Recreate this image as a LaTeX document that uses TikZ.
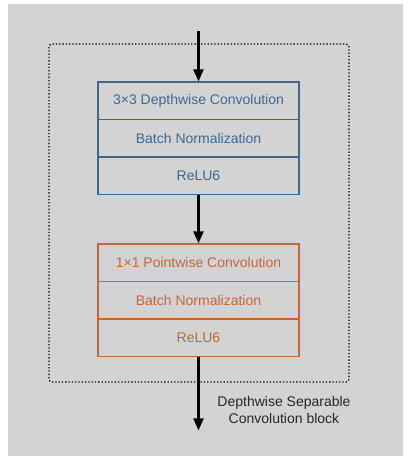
\documentclass[tikz,border=0pt]{standalone}
\usepackage{fontspec}
\setmainfont{Liberation Sans}
\usetikzlibrary{arrows.meta}
\definecolor{bg}{HTML}{D3D3D3}
\definecolor{dwblue}{HTML}{3A6A94}
\definecolor{pworange}{HTML}{C0683C}
\begin{document}
\begin{tikzpicture}[x=1pt,y=-1pt,
  layer/.style={draw=#1, line width=1.3pt, text=#1, minimum width=201pt, minimum height=37.5pt, inner sep=0pt, outer sep=0pt, font=\fontsize{14}{16}\selectfont, anchor=north},
  flow/.style={line width=2.3pt, -{Triangle[length=12pt,width=10pt]}, shorten >=0.6pt},
]
\useasboundingbox (0,0) rectangle (410,461);
\fill[bg] (8,4) rectangle (403,456);
\draw[dotted, line width=1.3pt, rounded corners=3pt] (49,44) rectangle (349,382);
% blue block
\node[layer=dwblue] (d1) at (198.5,82) {3×3 Depthwise Convolution};
\node[layer=dwblue] (d2) at (d1.south) {Batch Normalization};
\node[layer=dwblue] (d3) at (d2.south) {ReLU6};
% orange block
\node[layer=pworange] (p1) at (198.5,244) {1×1 Pointwise Convolution};
\node[layer=pworange] (p2) at (p1.south) {Batch Normalization};
\node[layer=pworange] (p3) at (p2.south) {ReLU6};
\coordinate (in) at (198.5,31);
\coordinate (out) at (198.5,431);
\draw[flow] (in) -- (d1.north);
\draw[flow] (d3.south) -- (p1.north);
\draw[flow] (p3.south) -- (out);
\node[align=center, font=\fontsize{14}{17}\selectfont, text=black!85] (lbl) at (284,409.5) {Depthwise Separable\\Convolution block};
\end{tikzpicture}
\end{document}
